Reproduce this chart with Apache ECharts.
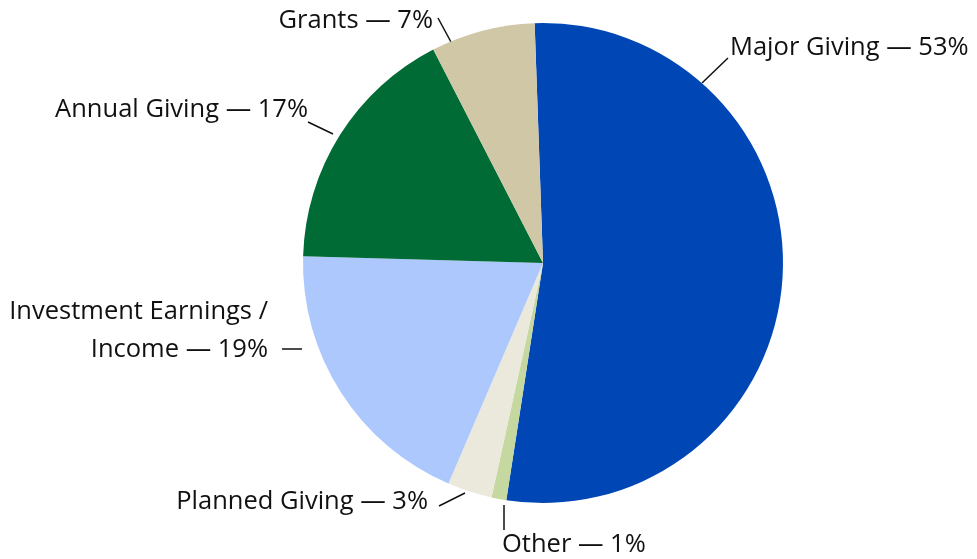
<!DOCTYPE html>
<html>
<head>
<meta charset="utf-8">
<script src="https://cdn.jsdelivr.net/npm/echarts@6/dist/echarts.min.js"></script>
<style>
  html, body { margin: 0; padding: 0; background: #fff; }
  #pie { width: 977px; height: 559px; }
</style>
</head>
<body>
<div id="pie"></div>
<script>
var categories = ['Major Giving', 'Other', 'Planned Giving', 'Investment Earnings /\nIncome', 'Annual Giving', 'Grants'];
var shares = [53, 1, 3, 19, 17, 7];
var colors = ['#0047b5', '#c4d8a0', '#ebe8dc', '#acc8fd', '#006b34', '#cfc7a6'];

// hand placed labels and leader lines, like the original Excel chart
var labelSpots = [
  { x: 730, y: 48, align: 'left', line: [[702, 83], [728, 58]] },
  { x: 502, y: 545, align: 'left', line: [[504, 505], [504, 530]] },
  { x: 428, y: 502, align: 'right', line: [[465, 493], [439, 506]] },
  { x: 268, y: 331, align: 'right', line: [[302, 349], [282, 349]] },
  { x: 308, y: 110, align: 'right', line: [[333, 134], [308, 122]] },
  { x: 433, y: 21, align: 'right', line: [[451, 42], [438, 18]] }
];

var chartDom = document.getElementById('pie');
var myChart = echarts.init(chartDom);
var option;

option = {
  animation: false,
  series: [
    {
      type: 'pie',
      center: [543, 263],
      radius: 240,
      startAngle: 92,
      clockwise: true,
      itemStyle: { borderWidth: 0 },
      label: {
        show: true,
        position: 'outside',
        formatter: '{b} — {c}%',
        color: '#111',
        fontFamily: 'Open Sans',
        fontSize: 25.5,
        lineHeight: 38,
        overflow: 'none'
      },
      labelLine: {
        show: true,
        length: 10,
        length2: 0,
        lineStyle: { color: '#111', width: 1.5 }
      },
      labelLayout: function (params) {
        var s = labelSpots[params.dataIndex];
        var a = s.line[0], b = s.line[1];
        return {
          x: s.x,
          y: s.y,
          align: s.align,
          verticalAlign: 'middle',
          labelLinePoints: [a, [(a[0] + b[0]) / 2, (a[1] + b[1]) / 2], b]
        };
      },
      data: categories.map(function (c, i) {
        return { name: c, value: shares[i], itemStyle: { color: colors[i] } };
      })
    }
  ]
};

option && myChart.setOption(option);
</script>
</body>
</html>
